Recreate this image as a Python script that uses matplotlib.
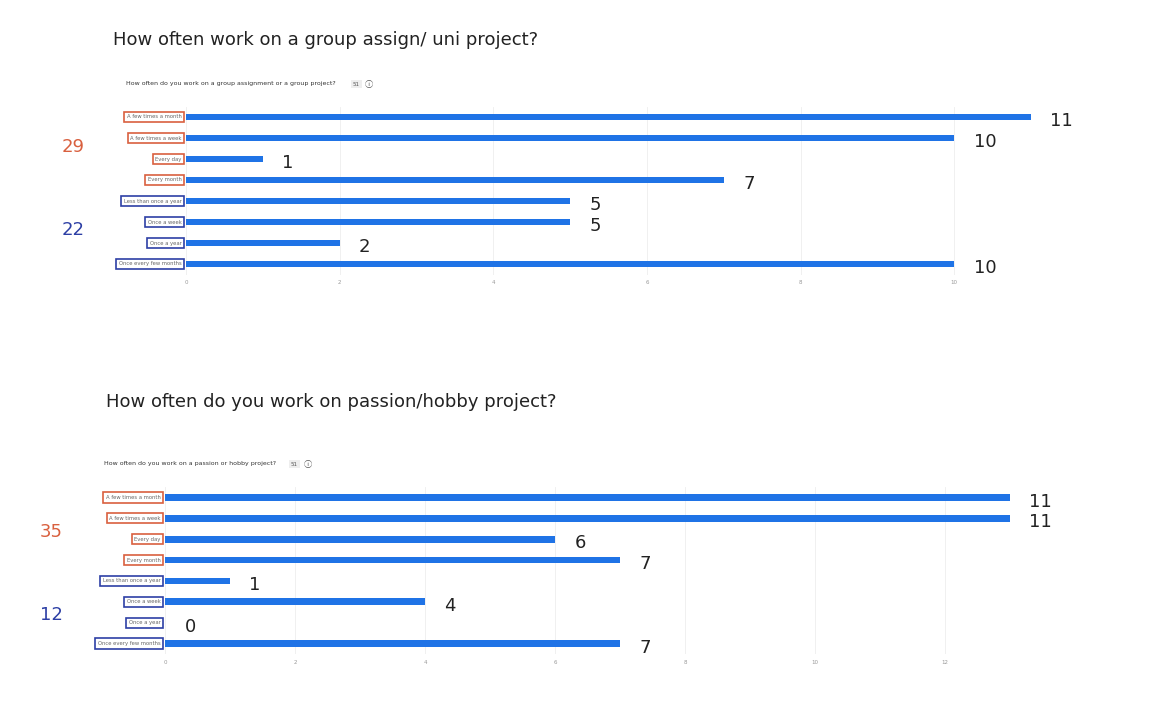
import matplotlib.pyplot as plt

# categories, same order in both charts (top to bottom)
categories = ["A few times a month", "A few times a week", "Every day", "Every month",
              "Less than once a year", "Once a week", "Once a year", "Once every few months"]
group_tags = ["r", "r", "r", "r", "b", "b", "b", "b"]

# group assignment chart
group_counts = [11, 10, 1, 7, 5, 5, 2, 10]
group_bars = [11, 10, 1, 7, 5, 5, 2, 10]
group_sums = [29, 22]
group_ticks = [0, 2, 4, 6, 8, 10]

# hobby project chart (bars drawn as in the screenshot, labels as written)
hobby_counts = [11, 11, 6, 7, 1, 4, 0, 7]
hobby_bars = [13, 13, 6, 7, 1, 4, 0, 7]
hobby_sums = [35, 12]
hobby_ticks = [0, 2, 4, 6, 8, 10, 12]

W, H = 1168, 704
RED = "#d9603f"
BLUE = "#2d3fa5"
BAR = "#1f73e6"
ICON_FONT = ["Noto Sans CJK SC", "DejaVu Sans"]

fig = plt.figure(figsize=(W / 100, H / 100), dpi=100)


def px_axes(x0, y_top, w, h):
    return fig.add_axes([x0 / W, 1 - (y_top + h) / H, w / W, h / H])


def draw(ax, bars, counts, ticks, xmax, sums, sum_x, sum_y):
    n = len(categories)
    ys = list(range(n))
    ax.barh(ys, bars, height=0.32, color=BAR, zorder=2)
    ax.set_xlim(0, xmax)
    ax.set_ylim(n - 0.5, -0.5)
    ax.set_xticks(ticks)
    ax.set_xticklabels([str(t) for t in ticks], fontsize=4, color="#999999")
    ax.set_yticks([])
    ax.tick_params(axis="x", length=0, pad=4)
    ax.grid(axis="x", color="#eeeeee", linewidth=0.6, zorder=0)
    for s in ax.spines.values():
        s.set_visible(False)
    for y, b, c, cat, tag in zip(ys, bars, counts, categories, group_tags):
        ax.annotate(str(c), (b, y), xytext=(14, -3), textcoords="offset points",
                    fontsize=13, va="center", ha="left", color="#222222")
        ax.annotate(cat, (0, y), xytext=(-3, 0), textcoords="offset points",
                    fontsize=3.8, va="center", ha="right", color="#666666",
                    bbox=dict(boxstyle="square,pad=0.5", fc="white",
                              ec=RED if tag == "r" else BLUE, lw=1.2))
    fig.text(sum_x / W, 1 - sum_y[0] / H, str(sums[0]), color=RED, fontsize=13,
             ha="center", va="center")
    fig.text(sum_x / W, 1 - sum_y[1] / H, str(sums[1]), color=BLUE, fontsize=13,
             ha="center", va="center")


ax1 = px_axes(186, 106.5, 845, 168)
draw(ax1, group_bars, group_counts, group_ticks, 11, group_sums, 73, (147, 230))
ax2 = px_axes(165, 487, 845, 167)
draw(ax2, hobby_bars, hobby_counts, hobby_ticks, 13, hobby_sums, 51, (532, 615))

fig.text(113 / W, 1 - 40 / H, "How often work on a group assign/ uni project?",
         fontsize=13, va="center", color="#222222")
fig.text(126 / W, 1 - 84 / H, "How often do you work on a group assignment or a group project?",
         fontsize=4.5, va="center", color="#333333")
fig.text(353 / W, 1 - 84 / H, "51", fontsize=4, va="center", color="#555555",
         bbox=dict(boxstyle="square,pad=0.3", fc="#eeeeee", ec="none"))
fig.text(365 / W, 1 - 84 / H, "ⓘ", fontsize=6, va="center", color="#555555",
         family=ICON_FONT)

fig.text(106 / W, 1 - 402 / H, "How often do you work on passion/hobby project?",
         fontsize=13, va="center", color="#222222")
fig.text(104 / W, 1 - 464 / H, "How often do you work on a passion or hobby project?",
         fontsize=4.5, va="center", color="#333333")
fig.text(291 / W, 1 - 464 / H, "51", fontsize=4, va="center", color="#555555",
         bbox=dict(boxstyle="square,pad=0.3", fc="#eeeeee", ec="none"))
fig.text(304 / W, 1 - 464 / H, "ⓘ", fontsize=6, va="center", color="#555555",
         family=ICON_FONT)

fig.savefig("out.png", dpi=100)
